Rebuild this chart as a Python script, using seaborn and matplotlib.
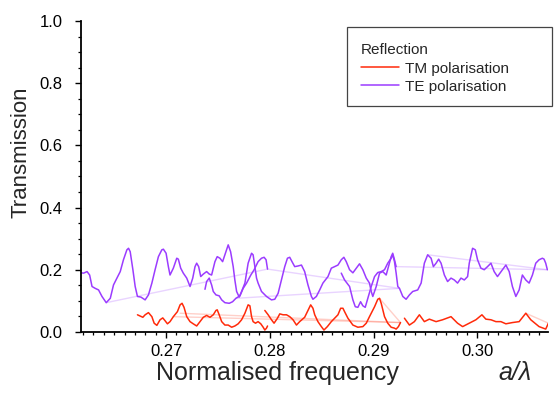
import numpy as np
import pandas as pd
import matplotlib
matplotlib.use("Agg")
import matplotlib.pyplot as plt
from matplotlib.lines import Line2D
from matplotlib.patches import Rectangle
from matplotlib.ticker import MultipleLocator
import seaborn as sns

# TE polarisation, traced piece by piece (a/lambda, transmission)
te_a_x = [0.26183, 0.26205, 0.26238, 0.26263, 0.26286, 0.26317, 0.26349, 0.26382, 0.26423, 0.26462,
          0.26493, 0.26526, 0.26558, 0.26589, 0.26622, 0.26638, 0.26654, 0.2668, 0.26702, 0.26724,
          0.26757, 0.26798, 0.2683, 0.26863, 0.26894, 0.26926, 0.26959, 0.26974, 0.27, 0.27022,
          0.27038, 0.2707, 0.27103, 0.27118, 0.27141, 0.27166, 0.27199, 0.27231, 0.27257, 0.27279,
          0.27295, 0.27314, 0.27334, 0.27359, 0.27391, 0.27416, 0.27439, 0.27471, 0.27493, 0.27519,
          0.27545, 0.27577, 0.27599, 0.27622, 0.27647, 0.27663, 0.2768, 0.27705, 0.27728, 0.2776,
          0.27791, 0.27824, 0.27839, 0.27856, 0.27872, 0.27887, 0.2792, 0.27968, 0.28016, 0.28048,
          0.2808, 0.28112, 0.28144, 0.2817, 0.28192, 0.28214, 0.2824, 0.28272, 0.28305, 0.28336,
          0.28368, 0.28401, 0.28416, 0.28449, 0.28481, 0.28512, 0.28561, 0.28593, 0.28625, 0.28657,
          0.28689, 0.28714, 0.28737, 0.28769, 0.28801, 0.28834, 0.28865, 0.28897, 0.2893, 0.28961,
          0.28978, 0.28993, 0.29026, 0.29058, 0.29089, 0.29122, 0.29144, 0.2917, 0.29185, 0.29202,
          0.29218]
te_a_y = [0.19, 0.189, 0.194, 0.183, 0.146, 0.14, 0.135, 0.114, 0.094, 0.108,
          0.151, 0.173, 0.194, 0.232, 0.264, 0.269, 0.258, 0.2, 0.146, 0.114,
          0.112, 0.103, 0.119, 0.157, 0.2, 0.242, 0.264, 0.266, 0.253, 0.21,
          0.183, 0.205, 0.237, 0.234, 0.205, 0.189, 0.173, 0.146, 0.173, 0.21,
          0.221, 0.21, 0.178, 0.186, 0.194, 0.186, 0.183, 0.226, 0.242, 0.237,
          0.226, 0.258, 0.28, 0.258, 0.21, 0.167, 0.13, 0.112, 0.13, 0.157,
          0.221, 0.253, 0.248, 0.21, 0.173, 0.157, 0.13, 0.114, 0.103, 0.105,
          0.124, 0.167, 0.21, 0.237, 0.24, 0.226, 0.21, 0.212, 0.215, 0.194,
          0.151, 0.114, 0.105, 0.114, 0.135, 0.157, 0.178, 0.205, 0.21, 0.215,
          0.232, 0.24, 0.226, 0.2, 0.19, 0.205, 0.219, 0.2, 0.173, 0.157,
          0.13, 0.114, 0.146, 0.189, 0.194, 0.183, 0.21, 0.242, 0.253, 0.232,
          0.21]

te_b_x = [0.27375, 0.27391, 0.27416, 0.27439, 0.27455, 0.27481, 0.27512, 0.27536, 0.27567, 0.27609,
          0.27641, 0.27673, 0.27712, 0.27743, 0.27776, 0.27817, 0.27849, 0.27887, 0.2792, 0.27945,
          0.27964, 0.27978]
te_b_y = [0.137, 0.162, 0.173, 0.151, 0.13, 0.119, 0.116, 0.103, 0.094, 0.092,
          0.097, 0.108, 0.116, 0.14, 0.157, 0.183, 0.2, 0.226, 0.237, 0.24,
          0.232, 0.202]

te_c_x = [0.28689, 0.28721, 0.28769, 0.28801, 0.28824, 0.28849, 0.28875, 0.28897, 0.2892, 0.28945,
          0.28978, 0.2901, 0.29041, 0.29074, 0.29106, 0.29137, 0.2917, 0.29185, 0.29202, 0.29218,
          0.29234, 0.2925, 0.29282, 0.29314, 0.29346, 0.29378, 0.29426, 0.29459, 0.2949, 0.29522,
          0.29555, 0.29577, 0.29603, 0.29628, 0.29651, 0.29683, 0.29714, 0.29747, 0.29779, 0.2981,
          0.29843, 0.29875, 0.29907, 0.29923, 0.29955, 0.29981, 0.30003, 0.30035, 0.30067, 0.30099,
          0.30132, 0.30163, 0.30195, 0.30243, 0.30276, 0.30308, 0.30339, 0.30372, 0.30404, 0.30435,
          0.30468, 0.305, 0.30532, 0.30564, 0.30596, 0.30628, 0.30644, 0.3066, 0.30676]
te_c_y = [0.189, 0.167, 0.146, 0.103, 0.081, 0.079, 0.097, 0.084, 0.079, 0.108,
          0.146, 0.178, 0.191, 0.194, 0.2, 0.221, 0.237, 0.248, 0.226, 0.189,
          0.146, 0.14, 0.114, 0.105, 0.119, 0.13, 0.135, 0.157, 0.221, 0.248,
          0.237, 0.21, 0.221, 0.234, 0.221, 0.183, 0.162, 0.173, 0.167, 0.157,
          0.173, 0.167, 0.178, 0.221, 0.269, 0.264, 0.232, 0.205, 0.2, 0.21,
          0.221, 0.194, 0.178, 0.2, 0.215, 0.194, 0.146, 0.114, 0.135, 0.183,
          0.167, 0.157, 0.183, 0.221, 0.232, 0.237, 0.234, 0.221, 0.2]

# faint jump lines between TE pieces (start x, end x), (start y, end y)
te_jump_x = [(0.26423, 0.27978), (0.27673, 0.2925), (0.27978, 0.2925), (0.29218, 0.30676), (0.29522, 0.30676)]
te_jump_y = [(0.094, 0.202), (0.108, 0.14), (0.202, 0.14), (0.21, 0.2), (0.248, 0.2)]

# TM polarisation
tm_a_x = [0.26724, 0.2675, 0.26776, 0.26798, 0.2683, 0.26863, 0.26885, 0.26911, 0.26942, 0.26968,
          0.2699, 0.27013, 0.27038, 0.2707, 0.27109, 0.27135, 0.27154, 0.27173, 0.27199, 0.27231,
          0.27262, 0.27295, 0.27327, 0.27359, 0.27391, 0.27423, 0.27455, 0.27481, 0.27493, 0.27512,
          0.27536, 0.27567, 0.27599, 0.27632, 0.27663, 0.27695, 0.27728, 0.2776, 0.27791, 0.27808,
          0.27824, 0.27839, 0.27862, 0.27887, 0.27913, 0.27936, 0.27952, 0.27968, 0.27978]
tm_a_y = [0.055, 0.051, 0.047, 0.055, 0.062, 0.049, 0.028, 0.021, 0.039, 0.045,
          0.036, 0.026, 0.033, 0.049, 0.065, 0.087, 0.092, 0.079, 0.049, 0.033,
          0.026, 0.019, 0.033, 0.047, 0.053, 0.047, 0.055, 0.069, 0.071, 0.055,
          0.033, 0.022, 0.022, 0.015, 0.019, 0.026, 0.039, 0.06, 0.087, 0.084,
          0.049, 0.033, 0.028, 0.033, 0.026, 0.015, 0.006, 0.012, 0.019]

tm_b_x = [0.27952, 0.27984, 0.28016, 0.28041, 0.28074, 0.28096, 0.28128, 0.28161, 0.28192, 0.28224,
          0.28257, 0.28288, 0.28336, 0.28368, 0.28394, 0.28416, 0.28433, 0.28464, 0.28497, 0.28522,
          0.28555, 0.28593, 0.28625, 0.28657, 0.28683, 0.28705, 0.28721, 0.28753, 0.28801, 0.28849,
          0.28897, 0.2893, 0.28961, 0.2901, 0.29041, 0.29058, 0.29074, 0.29106, 0.29137, 0.2917,
          0.29202, 0.29218, 0.2924, 0.2926]
tm_b_y = [0.069, 0.055, 0.039, 0.028, 0.044, 0.058, 0.055, 0.055, 0.049, 0.039,
          0.022, 0.033, 0.047, 0.069, 0.087, 0.076, 0.055, 0.033, 0.017, 0.006,
          0.017, 0.033, 0.044, 0.055, 0.076, 0.076, 0.065, 0.044, 0.022, 0.015,
          0.017, 0.028, 0.049, 0.081, 0.105, 0.108, 0.092, 0.049, 0.028, 0.015,
          0.012, 0.009, 0.017, 0.03]

tm_c_x = [0.29298, 0.29346, 0.29394, 0.29442, 0.2949, 0.29538, 0.29603, 0.29666, 0.29747, 0.2981,
          0.29859, 0.29923, 0.29987, 0.30045, 0.30083, 0.30132, 0.3018, 0.30228, 0.30276, 0.30339,
          0.30404, 0.30468, 0.30516, 0.30596, 0.3066, 0.30686]
tm_c_y = [0.044, 0.022, 0.033, 0.055, 0.033, 0.041, 0.033, 0.039, 0.049, 0.028,
          0.017, 0.028, 0.039, 0.055, 0.041, 0.039, 0.033, 0.033, 0.026, 0.03,
          0.033, 0.06, 0.039, 0.017, 0.009, 0.028]

tm_jump_x = [(0.27135, 0.2926), (0.2707, 0.2926), (0.29058, 0.2926), (0.30468, 0.30686)]
tm_jump_y = [(0.06, 0.03), (0.049, 0.03), (0.108, 0.03), (0.06, 0.028)]

legend_title = "Reflection"
series_labels = ["TM polarisation", "TE polarisation"]

te_color = "#9b3cff"
tm_color = "#ff2a0a"


def pieces(xs, ys):
    rows = []
    for k, (x, y) in enumerate(zip(xs, ys)):
        rows.append(pd.DataFrame({"x": x, "y": y, "piece": k}))
    return pd.concat(rows, ignore_index=True)


te_df = pieces([te_a_x, te_b_x, te_c_x], [te_a_y, te_b_y, te_c_y])
tm_df = pieces([tm_a_x, tm_b_x, tm_c_x], [tm_a_y, tm_b_y, tm_c_y])
te_jumps = pieces(te_jump_x, te_jump_y)
tm_jumps = pieces(tm_jump_x, tm_jump_y)

sns.set_style("ticks")
plt.rcParams["font.family"] = ["Liberation Sans", "DejaVu Sans"]

fig, ax = plt.subplots(figsize=(5.55, 3.97), dpi=100)
fig.subplots_adjust(left=0.146, right=0.987, bottom=0.164, top=0.947)

# faint jump lines first, then the curves on top
sns.lineplot(data=te_jumps, x="x", y="y", units="piece", estimator=None, sort=False,
             color=te_color, alpha=0.22, lw=1.0, ax=ax)
sns.lineplot(data=tm_jumps, x="x", y="y", units="piece", estimator=None, sort=False,
             color=tm_color, alpha=0.22, lw=1.0, ax=ax)
sns.lineplot(data=te_df, x="x", y="y", units="piece", estimator=None, sort=False,
             color=te_color, lw=1.1, ax=ax)
sns.lineplot(data=tm_df, x="x", y="y", units="piece", estimator=None, sort=False,
             color=tm_color, lw=1.1, ax=ax)

ax.set_xlim(0.2618, 0.3068)
ax.set_ylim(0, 1.0)
ax.xaxis.set_major_locator(MultipleLocator(0.01))
ax.xaxis.set_minor_locator(MultipleLocator(0.001))
ax.yaxis.set_major_locator(MultipleLocator(0.2))
ax.yaxis.set_minor_locator(MultipleLocator(0.05))
ax.tick_params(which="major", direction="out", length=4.5, width=1.0, labelsize=12, colors="black")
ax.tick_params(which="minor", direction="out", length=2.5, width=0.9, colors="black")
ax.tick_params(axis="x", which="major", pad=4.5)
ax.tick_params(axis="y", which="major", pad=9)
sns.despine(ax=ax)
for side in ["left", "bottom"]:
    ax.spines[side].set_linewidth(1.3)
    ax.spines[side].set_color("black")

ax.set_xlabel("")
ax.set_ylabel("")
fig.text(277 / 555, 1 - 373 / 397, "Normalised frequency", ha="center", va="center", fontsize=18)
fig.text(515 / 555, 1 - 373 / 397, "a/\u03bb", ha="center", va="center", fontsize=18, style="italic")
fig.text(21 / 555, 1 - 152 / 397, "Transmission", ha="center", va="center", fontsize=16, rotation=90)

# legend box like the original
ax.add_patch(Rectangle((0.5696, 0.7267), 0.439, 0.254, transform=ax.transAxes, fill=False,
                       edgecolor="#444444", lw=0.9, clip_on=False))
handles = [Line2D([], [], color=tm_color, lw=1.1), Line2D([], [], color=te_color, lw=1.1)]
leg = ax.legend(handles, series_labels, title=legend_title, loc="upper left",
                bbox_to_anchor=(0.600, 0.928), frameon=False, fontsize=11, title_fontsize=11,
                handlelength=2.5, handletextpad=0.35, labelspacing=0.27, borderpad=0, borderaxespad=0,
                alignment="left")

fig.savefig("out.png", dpi=100)
